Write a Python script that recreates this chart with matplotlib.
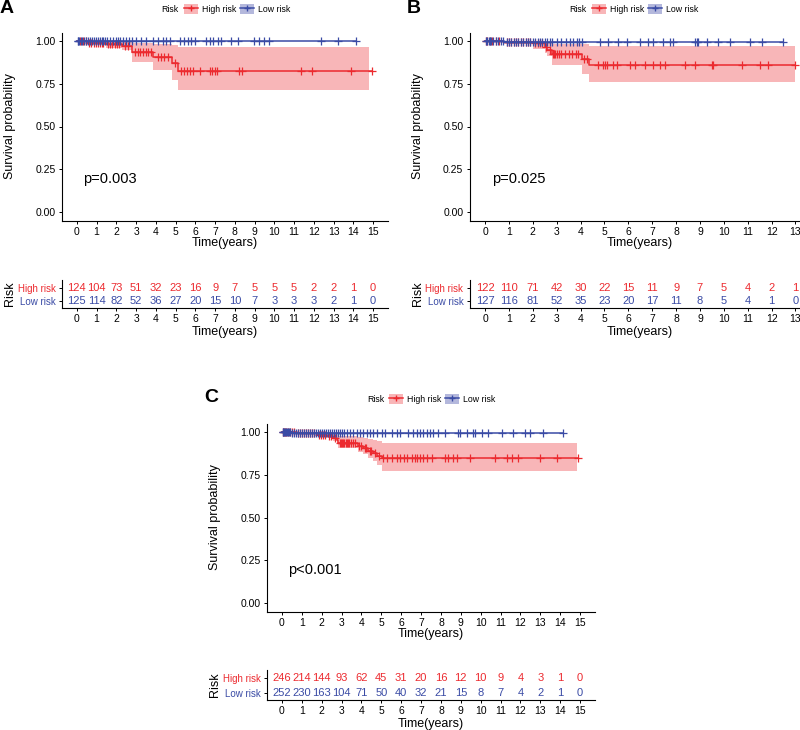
import numpy as np
import matplotlib
matplotlib.use('Agg')
import matplotlib.pyplot as plt
from matplotlib.patches import Patch
from matplotlib.lines import Line2D

plt.rcParams['font.family'] = ['Liberation Sans', 'DejaVu Sans']

RED = '#EC2A2F'
BLUE = '#3A4BA5'
PINK = '#F8B6B8'
LBLUE = '#B4B8DC'
W, H = 800, 730

# ---------------- data: panel A ----------------
a_years = list(range(16))
a_hi_t = [0, 0.5, 1.5, 2.3, 2.8, 3.85, 4.8, 5.1]
a_hi_s = [1.0, 0.99, 0.98, 0.97, 0.935, 0.905, 0.87, 0.826]
a_hi_lo = [1.0, 0.975, 0.96, 0.945, 0.88, 0.83, 0.775, 0.712]
a_hi_up = [1.0, 1.0, 1.0, 0.995, 0.99, 0.985, 0.975, 0.963]
a_hi_end, a_band_end = 14.95, 14.8
a_hi_cens = [0.15, 0.3, 0.45, 0.6, 0.7, 0.85, 0.95, 1.05, 1.15, 1.25, 1.35, 1.6, 1.7,
             1.8, 1.95, 2.05, 2.15, 2.45, 2.6, 2.95, 3.1, 3.2, 3.35, 3.5, 3.6, 3.75,
             4.1, 4.25, 4.4, 4.6, 4.95, 5.29, 5.42, 5.57, 5.74, 5.87, 6.21, 6.75, 6.85,
             6.97, 7.09, 8.2, 8.37, 11.35, 11.88, 13.9, 14.95]
a_lo_t = [0]
a_lo_s = [1.0]
a_lo_end = 14.12
a_lo_cens = [0.05, 0.08, 0.12, 0.2, 0.28, 0.36, 0.45, 0.55, 0.65, 0.75, 0.85, 0.95, 1.05,
             1.15, 1.25, 1.35, 1.45, 1.55, 1.7, 1.85, 2.0, 2.1, 2.2, 2.35, 2.5, 2.65, 2.8,
             3.01, 3.27, 3.52, 3.86, 4.11, 4.36, 4.53, 4.7, 5.2, 5.45, 5.62, 5.79, 5.96,
             6.55, 6.72, 6.89, 7.14, 7.31, 7.81, 8.15, 8.99, 9.24, 9.49, 9.75, 12.36,
             13.2, 14.12]
a_risk_hi = [124, 104, 73, 51, 32, 23, 16, 9, 7, 5, 5, 5, 2, 2, 1, 0]
a_risk_lo = [125, 114, 82, 52, 36, 27, 20, 15, 10, 7, 3, 3, 3, 2, 1, 0]

# ---------------- data: panel B ----------------
b_years = list(range(14))
b_hi_t = [0, 0.75, 2.0, 2.5, 2.6, 2.8, 4.05, 4.35]
b_hi_s = [1.0, 0.995, 0.99, 0.965, 0.945, 0.925, 0.893, 0.857]
b_hi_lo = [1.0, 0.985, 0.955, 0.93, 0.915, 0.86, 0.81, 0.758]
b_hi_up = [1.0, 1.0, 1.0, 0.995, 0.99, 0.985, 0.98, 0.973]
b_hi_end, b_band_end = 13.0, 13.0
b_hi_cens = [0.05, 0.1, 0.2, 0.3, 0.45, 0.6, 0.9, 1.0, 1.1, 1.2, 1.3, 1.4, 1.5, 1.6, 1.7,
             1.8, 1.9, 2.1, 2.2, 2.3, 2.4, 2.55, 2.7, 2.85, 2.9, 2.95, 3.0, 3.1, 3.2, 3.35,
             3.5, 3.65, 3.8, 3.9, 4.15, 4.25, 4.74, 4.95, 5.02, 5.09, 5.37, 5.54, 6.07,
             6.28, 6.69, 7.04, 7.32, 7.53, 8.37, 8.79, 9.49, 9.55, 10.74, 11.51, 11.85, 13.0]
b_lo_t = [0, 0.8]
b_lo_s = [1.0, 0.992]
b_lo_end = 12.48
b_lo_cens = [0.05, 0.1, 0.15, 0.2, 0.25, 0.35, 0.45, 0.55, 0.65, 0.75, 0.9, 1.0, 1.1, 1.2,
             1.3, 1.4, 1.5, 1.6, 1.7, 1.8, 1.9, 2.0, 2.1, 2.2, 2.3, 2.4, 2.5, 2.6, 2.7, 2.8,
             3.0, 3.2, 3.4, 3.55, 3.7, 3.85, 3.95, 4.05, 4.81, 5.16, 5.58, 5.93, 6.49,
             6.83, 7.04, 7.46, 7.74, 7.88, 8.79, 8.86, 8.92, 9.28, 9.76, 10.25, 11.09,
             11.58, 12.48]
b_risk_hi = [122, 110, 71, 42, 30, 22, 15, 11, 9, 7, 5, 4, 2, 1]
b_risk_lo = [127, 116, 81, 52, 35, 23, 20, 17, 11, 8, 5, 4, 1, 0]

# ---------------- data: panel C ----------------
c_years = list(range(16))
c_hi_t = [0, 0.74, 1.75, 2.25, 2.57, 2.75, 2.83, 3.84, 4.1, 4.34, 4.6, 4.77, 5.02]
c_hi_s = [1.0, 0.995, 0.985, 0.978, 0.968, 0.955, 0.937, 0.918, 0.905, 0.889, 0.875,
          0.86, 0.846]
c_hi_lo = [1.0, 0.99, 0.975, 0.965, 0.95, 0.93, 0.905, 0.885, 0.87, 0.85, 0.83, 0.81, 0.775]
c_hi_up = [1.0, 1.0, 1.0, 0.995, 0.99, 0.985, 0.975, 0.97, 0.965, 0.96, 0.955, 0.95, 0.935]
c_hi_end, c_band_end = 14.91, 14.83
c_hi_cens = [0.05, 0.1, 0.15, 0.2, 0.3, 0.4, 0.5, 0.6, 0.8, 0.9, 1.0, 1.1, 1.2, 1.3, 1.4,
             1.5, 1.6, 1.85, 1.95, 2.05, 2.15, 2.35, 2.45, 2.65, 2.9, 2.95, 3.0, 3.05, 3.1,
             3.2, 3.25, 3.3, 3.4, 3.5, 3.6, 3.7, 3.9, 4.0, 4.2, 4.25, 4.45, 4.5, 4.7, 4.9,
             5.1, 5.27, 5.52, 5.77, 5.94, 6.14, 6.27, 6.53, 6.69, 6.78, 6.95, 7.08, 7.28,
             7.53, 8.2, 8.37, 8.62, 8.79, 9.46, 10.72, 11.31, 11.56, 11.89, 12.98, 13.82,
             14.91]
c_lo_t = [0, 0.5]
c_lo_s = [1.0, 0.997]
c_lo_end = 14.16
c_lo_cens = [0.05, 0.08, 0.12, 0.16, 0.2, 0.25, 0.3, 0.35, 0.4, 0.5, 0.6, 0.7, 0.8, 0.9,
             1.0, 1.1, 1.2, 1.3, 1.4, 1.5, 1.6, 1.7, 1.8, 1.9, 2.0, 2.1, 2.2, 2.3, 2.4,
             2.5, 2.6, 2.7, 2.8, 2.9, 3.0, 3.1, 3.25, 3.42, 3.59, 3.76, 3.93, 4.09, 4.26,
             4.43, 4.6, 4.77, 5.02, 5.18, 5.52, 5.77, 5.94, 6.36, 6.61, 6.78, 6.95, 7.11,
             7.28, 7.45, 7.61, 7.87, 8.2, 8.87, 8.96, 9.29, 9.63, 9.71, 10.05, 10.38,
             11.06, 11.64, 12.23, 12.48, 13.15, 14.16]
c_risk_hi = [246, 214, 144, 93, 62, 45, 31, 20, 16, 12, 10, 9, 4, 3, 1, 0]
c_risk_lo = [252, 230, 163, 104, 71, 50, 40, 32, 21, 15, 8, 7, 4, 2, 1, 0]


def px_rect(x0, y0, x1, y1):
    # pixel box with top-left origin -> figure fraction rect
    return [x0 / W, 1 - y1 / H, (x1 - x0) / W, (y1 - y0) / H]


def step_value(t, times, surv):
    idx = np.searchsorted(times, t, side='right') - 1
    return np.asarray(surv)[idx]


def draw_curve(ax, times, surv, end, cens, color, lo=None, up=None, band_end=None):
    if lo is not None:
        tt = np.append(times, band_end)
        ax.fill_between(tt, np.append(lo, lo[-1]), np.append(up, up[-1]),
                        step='post', color=PINK, lw=0)
    ax.step(np.append(times, end), np.append(surv, surv[-1]), where='post',
            color=color, lw=1.1)
    c = np.asarray(cens)
    ax.plot(c, step_value(c, times, surv), ls='none', marker='+', ms=5.5,
            mew=0.9, color=color)


def style_axes(ax, years, wpx, hpx, xlab_off, ylab_size):
    xmax = years[-1]
    ax.set_xlim(-0.05 * xmax, 1.05 * xmax)
    ax.set_xticks(years)
    for s in ['top', 'right']:
        ax.spines[s].set_visible(False)
    for s in ['left', 'bottom']:
        ax.spines[s].set_linewidth(0.8)
    ax.tick_params(labelsize=7.5, length=2.5, width=0.7, pad=2)
    ax.tick_params(axis='y', labelsize=ylab_size)
    ax.set_xlabel('Time(years)', fontsize=9)
    ax.xaxis.set_label_coords(0.5, -xlab_off / hpx)
    ax.xaxis.label.set_va('center')
    ax.yaxis.set_label_coords(-52 / wpx, 0.5)
    ax.yaxis.label.set_va('center')


def panel(fig, box, tab_box, years, hi, lo, risk_hi, risk_lo, pval):
    x0, y0, x1, y1 = box
    ax = fig.add_axes(px_rect(*box))
    draw_curve(ax, *hi)
    draw_curve(ax, *lo)
    ax.set_ylim(-0.05, 1.05)
    ax.set_yticks([0, 0.25, 0.5, 0.75, 1.0])
    ax.set_yticklabels(['0.00', '0.25', '0.50', '0.75', '1.00'])
    ax.set_ylabel('Survival probability', fontsize=9)
    style_axes(ax, years, x1 - x0, y1 - y0, 22.5, 7.5)
    ax.text(0.3, 0.195, pval, fontsize=10.5, va='center')

    # number-at-risk table
    tx0, ty0, tx1, ty1 = tab_box
    at = fig.add_axes(px_rect(*tab_box))
    at.set_ylim(0.5, 2.55)
    for yr, n in zip(years, risk_hi):
        at.text(yr, 2, str(n), color=RED, ha='center', va='center', fontsize=8)
    for yr, n in zip(years, risk_lo):
        at.text(yr, 1, str(n), color=BLUE, ha='center', va='center', fontsize=8)
    at.set_yticks([1, 2])
    at.set_yticklabels(['Low risk', 'High risk'])
    for lab, col in zip(at.get_yticklabels(), [BLUE, RED]):
        lab.set_color(col)
    at.set_ylabel('Risk', fontsize=9)
    style_axes(at, years, tx1 - tx0, ty1 - ty0, 24, 7)


def legend(fig, x_risk, x_leg, y):
    fig.text(x_risk / W, 1 - y / H, 'Risk', fontsize=6.3, ha='right', va='center')
    hh = (Patch(facecolor=PINK, edgecolor='none'),
          Line2D([], [], color=RED, marker='+', ms=5, lw=1.1))
    hl = (Patch(facecolor=LBLUE, edgecolor='none'),
          Line2D([], [], color=BLUE, marker='+', ms=5, lw=1.1))
    fig.legend([hh, hl], ['High risk', 'Low risk'], loc='center left',
               bbox_to_anchor=(x_leg / W, 1 - y / H), ncol=2, frameon=False,
               fontsize=6.3, handlelength=1.6, handleheight=1.4, handletextpad=0.45,
               columnspacing=0.4, borderpad=0, borderaxespad=0)


fig = plt.figure(figsize=(8, 7.3), dpi=100)

panel(fig, (62, 32.5, 388, 220.5), (62, 280, 388, 308), a_years,
      (a_hi_t, a_hi_s, a_hi_end, a_hi_cens, RED, a_hi_lo, a_hi_up, a_band_end),
      (a_lo_t, a_lo_s, a_lo_end, a_lo_cens, BLUE),
      a_risk_hi, a_risk_lo, 'p=0.003')
panel(fig, (469.5, 32.5, 811, 220.5), (469.5, 280, 811, 308), b_years,
      (b_hi_t, b_hi_s, b_hi_end, b_hi_cens, RED, b_hi_lo, b_hi_up, b_band_end),
      (b_lo_t, b_lo_s, b_lo_end, b_lo_cens, BLUE),
      b_risk_hi, b_risk_lo, 'p=0.025')
panel(fig, (267, 423.5, 595, 611.5), (267, 670, 595, 700), c_years,
      (c_hi_t, c_hi_s, c_hi_end, c_hi_cens, RED, c_hi_lo, c_hi_up, c_band_end),
      (c_lo_t, c_lo_s, c_lo_end, c_lo_cens, BLUE),
      c_risk_hi, c_risk_lo, 'p<0.001')

legend(fig, 179, 184, 9)
legend(fig, 587, 592, 9)
legend(fig, 385, 389, 399)

for letter, x, y in [('A', 7, 8.5), ('B', 414, 8.5), ('C', 211, 398)]:
    fig.text(x / W, 1 - y / H, letter, fontsize=14, fontweight='bold',
             ha='center', va='center')

fig.savefig('out.png', dpi=100)
